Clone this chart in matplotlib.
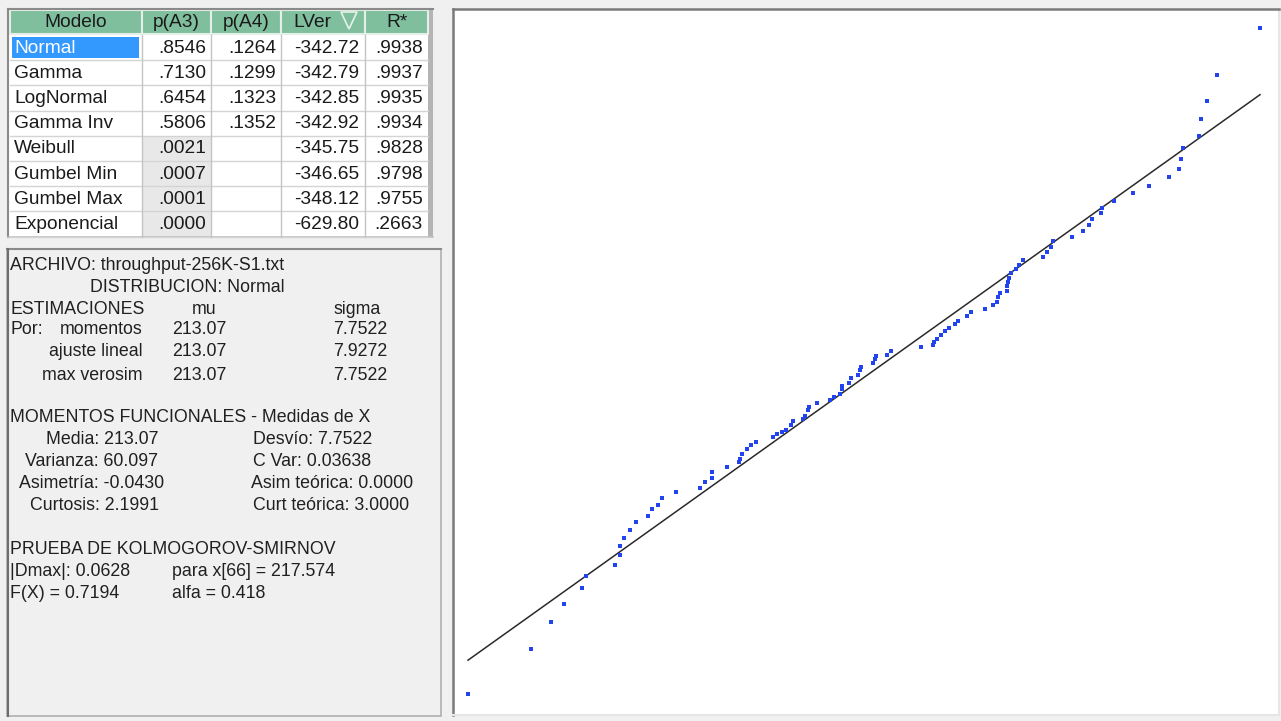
import matplotlib.pyplot as plt
from matplotlib.patches import Rectangle, Polygon

plt.rcParams['font.family'] = ['Liberation Sans', 'DejaVu Sans']

# Tabla de modelos
headers = ["Modelo", "p(A3)", "p(A4)", "LVer", "R*"]
modelos = ["Normal", "Gamma", "LogNormal", "Gamma Inv", "Weibull",
           "Gumbel Min", "Gumbel Max", "Exponencial"]
p_a3 = [".8546", ".7130", ".6454", ".5806", ".0021", ".0007", ".0001", ".0000"]
p_a4 = [".1264", ".1299", ".1323", ".1352", "", "", "", ""]
lver = ["-342.72", "-342.79", "-342.85", "-342.92", "-345.75", "-346.65",
        "-348.12", "-629.80"]
r_star = [".9938", ".9937", ".9935", ".9934", ".9828", ".9798", ".9755", ".2663"]

# Grafico de probabilidad normal: cuantil teorico vs dato observado
z_teor = [-2.519, -2.120, -1.994, -1.911, -1.797, -1.772, -1.589, -1.557, -1.557, -1.532,
          -1.494, -1.456, -1.380, -1.354, -1.316, -1.291, -1.203, -1.051, -1.019, -0.975,
          -0.975, -0.880, -0.804, -0.797, -0.785, -0.753, -0.728, -0.696, -0.589, -0.563,
          -0.532, -0.506, -0.475, -0.462, -0.399, -0.386, -0.367, -0.361, -0.310, -0.228,
          -0.203, -0.165, -0.152, -0.152, -0.108, -0.095, -0.051, -0.038, -0.032, 0.044,
          0.057, 0.063, 0.133, 0.158, 0.348, 0.424, 0.430, 0.449, 0.475, 0.500,
          0.525, 0.563, 0.582, 0.639, 0.665, 0.753, 0.804, 0.829, 0.835, 0.848,
          0.892, 0.892, 0.899, 0.905, 0.918, 0.949, 0.968, 0.994, 1.120, 1.146,
          1.171, 1.184, 1.304, 1.373, 1.411, 1.430, 1.487, 1.494, 1.570, 1.690,
          1.791, 1.918, 1.981, 1.994, 2.006, 2.108, 2.120, 2.158, 2.222, 2.494]
x_obs = [190.72, 193.88, 195.78, 197.05, 198.17, 199.01, 199.79, 200.49, 201.12, 201.68,
         202.25, 202.81, 203.23, 203.72, 204.00, 204.50, 204.92, 205.20, 205.62, 205.90,
         206.32, 206.67, 207.03, 207.24, 207.59, 207.94, 208.22, 208.43, 208.78, 208.99,
         209.13, 209.27, 209.63, 209.91, 210.05, 210.26, 210.68, 210.89, 211.17, 211.38,
         211.59, 211.80, 212.16, 212.37, 212.58, 212.93, 213.14, 213.49, 213.70, 213.98,
         214.26, 214.48, 214.55, 214.83, 215.11, 215.25, 215.46, 215.67, 215.95, 216.23,
         216.44, 216.72, 216.94, 217.29, 217.57, 217.78, 218.06, 218.27, 218.62, 218.90,
         219.04, 219.40, 219.68, 219.96, 220.31, 220.59, 220.87, 221.22, 221.43, 221.78,
         222.14, 222.56, 222.84, 223.26, 223.68, 224.10, 224.53, 224.88, 225.37, 225.93,
         226.42, 227.06, 227.62, 228.32, 229.09, 229.94, 231.13, 232.40, 234.22, 237.53]
mu_ajuste = 213.07
sigma_ajuste = 7.9272

fig = plt.figure(figsize=(12.81, 7.21), dpi=100, facecolor='#f0f0f0')

# capa de "ventana" en pixeles
ui = fig.add_axes([0, 0, 1, 1])
ui.set_xlim(0, 1281)
ui.set_ylim(721, 0)
ui.axis('off')

# ---- tabla ----
col_x = [10, 142, 211, 281, 365, 428]
row_h = 25.2
top_rows = 35
fs_tab = 13.8
ui.add_patch(Rectangle((8, 9), 425, 228, facecolor='white', edgecolor='none'))
ui.add_patch(Rectangle((428, 9), 5, 228, facecolor='#b4b4b4', edgecolor='none'))
ui.plot([8, 433], [9, 9], color='#8a8a8a', lw=1.5)
ui.plot([8, 8], [9, 237], color='#8a8a8a', lw=1.5)
ui.plot([8, 433], [237, 237], color='#c0c0c0', lw=1.2)

for j in range(5):
    ui.add_patch(Rectangle((col_x[j], 10), col_x[j + 1] - col_x[j], 24,
                           facecolor='#7fbf9d', edgecolor='#e4efe8', lw=1.5))
    cx = (col_x[j] + col_x[j + 1]) / 2
    if j == 3:
        cx = 312
    ui.text(cx, 22.5, headers[j], ha='center', va='center', fontsize=fs_tab, color='#1a1a1a')
ui.add_patch(Polygon([[341, 12], [357, 12], [349, 29]], closed=True,
                     facecolor='none', edgecolor='#e8f2ec', lw=1.2))

for i in range(len(modelos)):
    y0 = top_rows + i * row_h
    if i >= 4:
        ui.add_patch(Rectangle((col_x[1], y0), col_x[2] - col_x[1], row_h,
                               facecolor='#e8e8e8', edgecolor='none'))
    ui.plot([col_x[0], col_x[-1]], [y0 + row_h, y0 + row_h], color='#d4d4d4', lw=1)
    yc = y0 + row_h / 2 + 0.5
    color_txt = '#1a1a1a'
    if i == 0:
        ui.add_patch(Rectangle((12, 37), 127, 20.5, facecolor='#3399ff', edgecolor='none'))
        color_txt = 'white'
    ui.text(14, yc, modelos[i], ha='left', va='center', fontsize=fs_tab, color=color_txt)
    ui.text(col_x[2] - 5, yc, p_a3[i], ha='right', va='center', fontsize=fs_tab, color='#1a1a1a')
    ui.text(col_x[3] - 5, yc, p_a4[i], ha='right', va='center', fontsize=fs_tab, color='#1a1a1a')
    ui.text(col_x[4] - 6, yc, lver[i], ha='right', va='center', fontsize=fs_tab, color='#1a1a1a')
    ui.text(col_x[5] - 5, yc, r_star[i], ha='right', va='center', fontsize=fs_tab, color='#1a1a1a')
for xc in col_x[1:-1]:
    ui.plot([xc, xc], [top_rows, 237], color='#c4c4c4', lw=1)

# ---- panel de resultados ----
ui.add_patch(Rectangle((7, 249), 434, 467, facecolor='#f0f0f0', edgecolor='#b0b0b0', lw=1.2))
ui.plot([7, 441], [249, 249], color='#8a8a8a', lw=1.5)
ui.plot([7.5, 7.5], [249, 716], color='#6e6e6e', lw=1.5)

fs = 12.8
tc = '#202020'
lineas = [
    (10, 266, "ARCHIVO: throughput-256K-S1.txt"),
    (90, 287, "DISTRIBUCION: Normal"),
    (10, 309, "ESTIMACIONES"), (192, 309, "mu"), (333, 309, "sigma"),
    (10, 330, "Por:"),
    (172, 330, "213.07"), (333, 330, "7.7522"),
    (172, 352, "213.07"), (333, 352, "7.9272"),
    (172, 375, "213.07"), (333, 375, "7.7522"),
    (10, 418, "MOMENTOS FUNCIONALES - Medidas de X"),
    (46, 439, "Media: 213.07"), (253, 439, "Desvío: 7.7522"),
    (25, 462, "Varianza: 60.097"), (253, 462, "C Var: 0.03638"),
    (19, 484, "Asimetría: -0.0430"), (251, 484, "Asim teórica: 0.0000"),
    (30, 506, "Curtosis: 2.1991"), (253, 506, "Curt teórica: 3.0000"),
    (10, 549, "PRUEBA DE KOLMOGOROV-SMIRNOV"),
    (10, 572, "|Dmax|: 0.0628"), (172, 572, "para x[66] = 217.574"),
    (10, 593, "F(X) = 0.7194"), (172, 593, "alfa = 0.418"),
]
for x, y, s in lineas:
    ui.text(x, y, s, ha='left', va='center', fontsize=fs, color=tc)
for y, s in [(330, "momentos"), (352, "ajuste lineal"), (375, "max verosim")]:
    ui.text(143, y, s, ha='right', va='center', fontsize=fs, color=tc)

# ---- grafico QQ ----
ax = fig.add_axes([453 / 1281, 1 - 715 / 721, (1279 - 453) / 1281, (715 - 9) / 721])
ax.set_facecolor('white')
ax.plot([z_teor[0], z_teor[-1]],
        [mu_ajuste + sigma_ajuste * z_teor[0], mu_ajuste + sigma_ajuste * z_teor[-1]],
        color='#2a2a2a', lw=1.1, zorder=2)
ax.plot(z_teor, x_obs, 's', color='#2244ee', markersize=2.9, markeredgewidth=0, zorder=3)
ax.set_xlim(-2.614, 2.614)
ax.set_ylim(189.25, 238.86)
ax.set_xticks([])
ax.set_yticks([])
for side in ['left', 'top']:
    ax.spines[side].set_color('#7a7a7a')
    ax.spines[side].set_linewidth(1.8)
for side in ['right', 'bottom']:
    ax.spines[side].set_color('#e6e6e6')
    ax.spines[side].set_linewidth(1.5)

fig.savefig('out.png', dpi=100, facecolor=fig.get_facecolor())
